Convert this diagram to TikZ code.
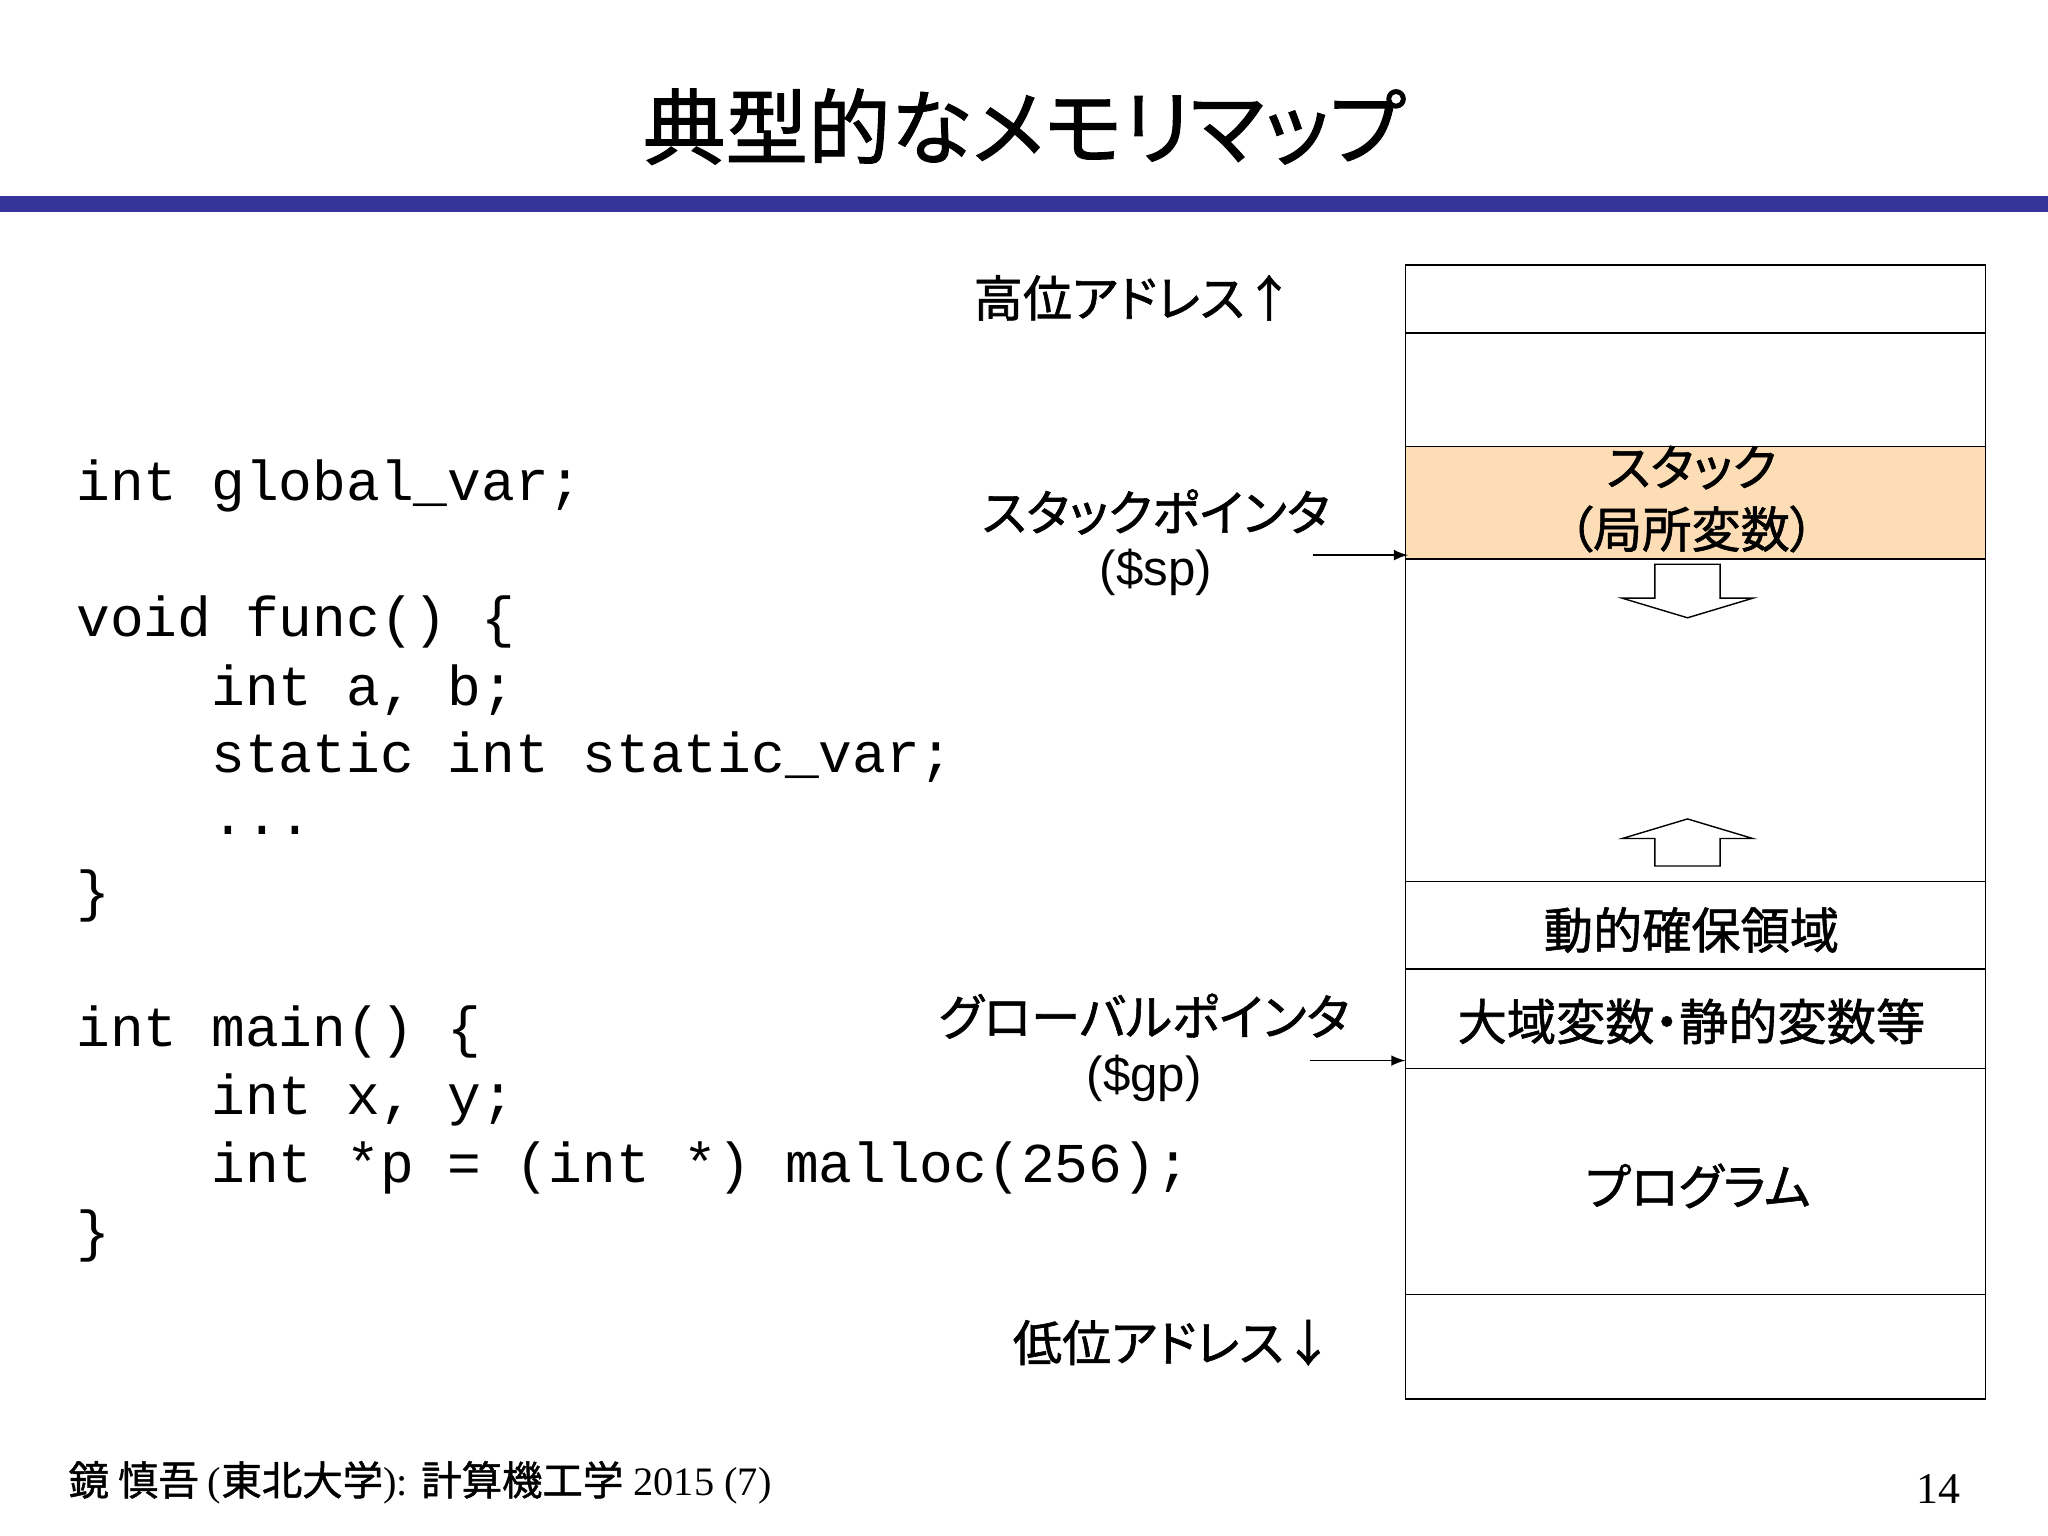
\documentclass[tikz,border=0pt]{standalone}
\usepackage{fontspec}
\setmainfont{Liberation Sans}
\setmonofont{Liberation Mono}
\newfontfamily\jp[RawFeature={+palt},FakeBold=1.2]{Noto Sans CJK JP}
\newfontfamily\jpserif{Liberation Serif}
\definecolor{barblue}{RGB}{51,51,153}
\definecolor{peach}{RGB}{252,221,181}
\begin{document}
\begin{tikzpicture}[x=0.013061cm,y=-0.013061cm,
  lbl/.style={font=\jp\fontsize{14}{17}\selectfont,align=center,inner sep=0},
  code/.style={font=\ttfamily\fontsize{16}{18}\selectfont,anchor=west,inner sep=0},
  ptr/.style={-latex,thin}]
\useasboundingbox (0,0) rectangle (1568,1176);
\fill[white] (0,0) rectangle (1568,1176);
\node[font=\jp\fontsize{23.5}{26}\selectfont,inner sep=0] (title) at (784,97) {典型的なメモリマップ};
\fill[barblue] (0,150) rectangle (1568,162);
% memory box
\fill[peach] (1076,342) rectangle (1520,428);
\draw[thin] (1076,203) rectangle (1520,1071);
\foreach \yy in {255,342,428,675,742,818,991} \draw[thin] (1076,\yy) -- (1520,\yy);
\node[lbl] (stk) at (1295,358) {スタック};
\node[lbl] (stk2) at (1295,405) {（局所変数）};
\node[lbl] (dyn) at (1295,712) {動的確保領域};
\node[lbl] (glob) at (1295,782) {大域変数・静的変数等};
\node[lbl] (prog) at (1300,908) {プログラム};
\draw[thin] (1267,432) -- (1317,432) -- (1317,458) -- (1342,458) -- (1292,473) -- (1242,458) -- (1267,458) -- cycle;
\draw[thin] (1267,663) -- (1317,663) -- (1317,642) -- (1342,642) -- (1292,627) -- (1242,642) -- (1267,642) -- cycle;
\node[lbl] (hi) at (868,228) {高位アドレス↑};
\node[lbl] (lo) at (898,1028) {低位アドレス↓};
\node[lbl] (sp) at (885,392) {スタックポインタ};
\node[lbl,font=\fontsize{14}{17}\selectfont] (spr) at (885,438) {(\$sp)};
\coordinate (spa) at (1005,425);
\coordinate (spb) at (1078,425);
\draw[ptr] (spa) -- (spb);
\node[lbl] (gp) at (876,778) {グローバルポインタ};
\node[lbl,font=\fontsize{14}{17}\selectfont] (gpr) at (876,826) {(\$gp)};
\coordinate (gpa) at (1003,812);
\coordinate (gpb) at (1076,812);
\draw[ptr] (gpa) -- (gpb);
% code
\node[code] (c1) at (58,372) {int global\_var;};
\node[code] (c2) at (58,476) {void func() \{};
\node[code] (c3) at (58,528) {\ \ \ \ int a, b;};
\node[code] (c4) at (58,580) {\ \ \ \ static int static\_var;};
\node[code] (c5) at (58,636) {\ \ \ \ ...};
\node[code] (c6) at (58,686) {\}};
\node[code] (c7) at (58,790) {int main() \{};
\node[code] (c8) at (58,842) {\ \ \ \ int x, y;};
\node[code] (c9) at (58,894) {\ \ \ \ int *p = (int *) malloc(256);};
\node[code] (c10) at (58,946) {\}};
\node[anchor=west,inner sep=0,font=\fontsize{11.5}{14}\selectfont] (foot) at (52,1135) {{\jp 鏡 慎吾 }{\jpserif (}{\jp 東北大学}{\jpserif ): }{\jp 計算機工学}{\jpserif\ 2015 (7)}};
\node[inner sep=0,font=\jpserif\fontsize{12.5}{15}\selectfont] (pg) at (1484,1140) {14};
\end{tikzpicture}
\end{document}
